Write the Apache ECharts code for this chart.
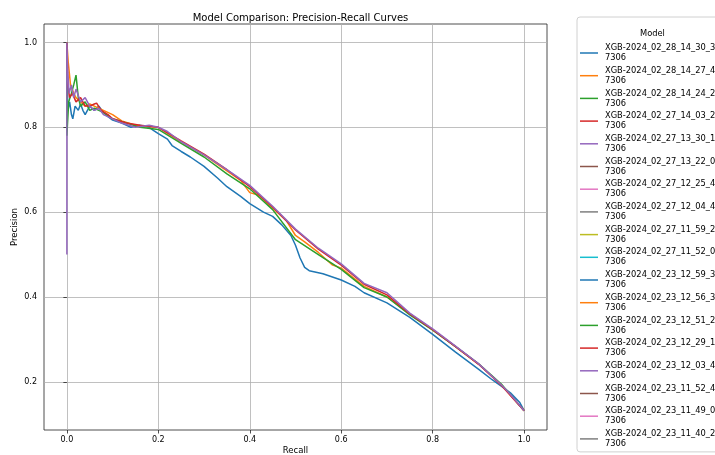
<!DOCTYPE html>
<html>
<head>
<meta charset="utf-8">
<script src="https://cdn.jsdelivr.net/npm/echarts@6/dist/echarts.min.js"></script>
<style>
  html, body { margin: 0; padding: 0; background: #fff; }
  #main { width: 715px; height: 455px; }
</style>
</head>
<body>
<div id="main"></div>
<script>
// legend names (first line), the second line of every entry is the same
var modelNames = [
  'XGB-2024_02_28_14_30_3', 'XGB-2024_02_28_14_27_4', 'XGB-2024_02_28_14_24_2',
  'XGB-2024_02_27_14_03_2', 'XGB-2024_02_27_13_30_1', 'XGB-2024_02_27_13_22_0',
  'XGB-2024_02_27_12_25_4', 'XGB-2024_02_27_12_04_4', 'XGB-2024_02_27_11_59_2',
  'XGB-2024_02_27_11_52_0', 'XGB-2024_02_23_12_59_3', 'XGB-2024_02_23_12_56_3',
  'XGB-2024_02_23_12_51_2', 'XGB-2024_02_23_12_29_1', 'XGB-2024_02_23_12_03_4',
  'XGB-2024_02_23_11_52_4', 'XGB-2024_02_23_11_49_0', 'XGB-2024_02_23_11_40_2'
];
var nameSuffix = '7306';
var colors = ['#1f77b4', '#ff7f0e', '#2ca02c', '#d62728', '#9467bd',
              '#8c564b', '#e377c2', '#7f7f7f', '#bcbd22', '#17becf'];

var xTicks = [0.0, 0.2, 0.4, 0.6, 0.8, 1.0];
var yTicks = [0.2, 0.4, 0.6, 0.8, 1.0];

// [recall, precision]
var curveBlue = [
  [0, 1.0], [0.002, 0.84], [0.006, 0.86], [0.01, 0.83], [0.013, 0.82], [0.018, 0.85],
  [0.025, 0.84], [0.03, 0.855], [0.035, 0.84], [0.04, 0.83], [0.05, 0.85], [0.06, 0.84],
  [0.07, 0.85], [0.08, 0.835], [0.09, 0.825], [0.1, 0.817], [0.12, 0.81], [0.14, 0.80],
  [0.16, 0.805], [0.18, 0.80], [0.19, 0.792], [0.2, 0.785], [0.22, 0.772], [0.23, 0.757],
  [0.25, 0.743], [0.27, 0.73], [0.3, 0.708], [0.33, 0.68], [0.35, 0.66], [0.38, 0.637],
  [0.4, 0.62], [0.43, 0.60], [0.45, 0.59], [0.47, 0.57], [0.49, 0.545], [0.5, 0.522],
  [0.51, 0.492], [0.52, 0.47], [0.53, 0.462], [0.56, 0.455], [0.6, 0.44], [0.63, 0.425],
  [0.65, 0.41], [0.7, 0.386], [0.75, 0.352], [0.8, 0.312], [0.85, 0.27], [0.9, 0.23],
  [0.93, 0.205], [0.95, 0.19], [0.97, 0.174], [0.99, 0.152], [1.0, 0.132]
];
var curveOrange = [
  [0, 1.0], [0.003, 0.954], [0.008, 0.90], [0.015, 0.88], [0.02, 0.87], [0.03, 0.86],
  [0.04, 0.85], [0.05, 0.855], [0.06, 0.85], [0.08, 0.84], [0.1, 0.83], [0.12, 0.815],
  [0.15, 0.805], [0.2, 0.80], [0.25, 0.765], [0.3, 0.735], [0.35, 0.697], [0.38, 0.675],
  [0.4, 0.646], [0.42, 0.64], [0.45, 0.61], [0.48, 0.58], [0.5, 0.545], [0.52, 0.53],
  [0.55, 0.505], [0.58, 0.476], [0.6, 0.468], [0.65, 0.425], [0.7, 0.40], [0.75, 0.36],
  [0.8, 0.323], [0.85, 0.283], [0.9, 0.242], [0.95, 0.193], [1.0, 0.132]
];
var curveGreen = [
  [0, 1.0], [0, 0.78], [0.004, 0.86], [0.01, 0.88], [0.015, 0.90], [0.02, 0.923],
  [0.025, 0.87], [0.03, 0.85], [0.04, 0.86], [0.05, 0.84], [0.06, 0.845], [0.07, 0.84],
  [0.08, 0.835], [0.1, 0.82], [0.13, 0.81], [0.16, 0.80], [0.2, 0.795], [0.25, 0.762],
  [0.3, 0.73], [0.35, 0.69], [0.4, 0.655], [0.45, 0.606], [0.5, 0.535], [0.55, 0.50],
  [0.6, 0.465], [0.65, 0.422], [0.7, 0.40], [0.75, 0.358], [0.8, 0.322], [0.85, 0.283],
  [0.9, 0.243], [0.95, 0.195], [1.0, 0.132]
];
var curveRed = [
  [0, 1.0], [0.002, 0.90], [0.006, 0.87], [0.012, 0.88], [0.02, 0.86], [0.03, 0.87],
  [0.04, 0.85], [0.05, 0.85], [0.06, 0.855], [0.065, 0.857], [0.075, 0.84], [0.09, 0.83],
  [0.1, 0.82], [0.13, 0.81], [0.16, 0.805], [0.2, 0.80], [0.25, 0.768], [0.3, 0.737],
  [0.35, 0.70], [0.4, 0.66], [0.45, 0.612], [0.5, 0.558], [0.55, 0.513], [0.6, 0.475],
  [0.65, 0.43], [0.7, 0.405], [0.75, 0.36], [0.8, 0.323], [0.85, 0.283], [0.9, 0.242],
  [0.95, 0.192], [1.0, 0.132]
];
var curvePurple = [
  [0, 0.5], [0, 1.0], [0.002, 0.93], [0.005, 0.88], [0.01, 0.90], [0.015, 0.87],
  [0.02, 0.89], [0.03, 0.86], [0.04, 0.87], [0.05, 0.85], [0.06, 0.84], [0.07, 0.845],
  [0.08, 0.83], [0.1, 0.82], [0.12, 0.81], [0.15, 0.80], [0.18, 0.805], [0.2, 0.80],
  [0.22, 0.79], [0.25, 0.766], [0.3, 0.735], [0.35, 0.70], [0.4, 0.663], [0.45, 0.614],
  [0.5, 0.56], [0.55, 0.515], [0.6, 0.478], [0.65, 0.432], [0.7, 0.41], [0.75, 0.362],
  [0.8, 0.325], [0.85, 0.284], [0.9, 0.243], [0.95, 0.193], [0.97, 0.17], [1.0, 0.132]
];
var curves = [curveBlue, curveOrange, curveGreen, curveRed, curvePurple];

var font = 'DejaVu Sans';
var myChart = echarts.init(document.getElementById('main'));

var series = [];
for (var i = 0; i < modelNames.length; i++) {
  series.push({
    name: modelNames[i],
    type: 'line',
    symbol: 'none',
    color: colors[i % colors.length],
    lineStyle: { width: 1.5 },
    data: curves[i] || []
  });
}

var option = {
  animation: false,
  title: {
    text: 'Model Comparison: Precision-Recall Curves',
    left: 295.5, top: 8, textAlign: 'center',
    textStyle: { fontFamily: font, fontSize: 10, fontWeight: 'normal', color: '#000' }
  },
  graphic: [{
    type: 'text', left: 640, top: 30,
    style: { text: 'Model', fontFamily: font, fontSize: 8.3, fill: '#000' }
  }],
  legend: {
    orient: 'vertical', left: 577, top: 17,
    padding: [26, 5, 3, 3],
    borderColor: '#d0d0d0', borderWidth: 1, borderRadius: 3,
    icon: 'rect', itemWidth: 18, itemHeight: 1.5, itemGap: 2.7,
    selectedMode: false,
    formatter: function (name) { return name + '\n' + nameSuffix; },
    textStyle: { fontFamily: font, fontSize: 8.3, lineHeight: 10, color: '#000', padding: [0, 0, 0, 2] },
    data: modelNames
  },
  grid: {
    left: 44, right: 168, top: 24, bottom: 25,
    outerBoundsMode: 'none',
    show: true, borderColor: '#222', borderWidth: 0.8
  },
  xAxis: {
    type: 'value', min: -0.05, max: 1.05,
    name: 'Recall', nameLocation: 'middle', nameGap: 16, nameMoveOverlap: false,
    nameTextStyle: { fontFamily: font, fontSize: 8.5, color: '#000' },
    axisLine: { show: false },
    axisTick: { show: true, inside: false, length: 3.5, customValues: xTicks, lineStyle: { color: '#222', width: 0.8 } },
    axisLabel: { customValues: xTicks, fontFamily: font, fontSize: 8, color: '#000', margin: 6,
      formatter: function (v) { return v.toFixed(1); } },
    splitLine: { show: true, lineStyle: { color: '#b0b0b0', width: 0.8 } }
  },
  yAxis: {
    type: 'value', min: 0.0865, max: 1.0435,
    name: 'Precision', nameLocation: 'middle', nameGap: 25, nameMoveOverlap: false,
    nameTextStyle: { fontFamily: font, fontSize: 8.5, color: '#000' },
    axisLine: { show: false },
    axisTick: { show: true, inside: false, length: 3.5, customValues: yTicks, lineStyle: { color: '#222', width: 0.8 } },
    axisLabel: { customValues: yTicks, fontFamily: font, fontSize: 8, color: '#000', margin: 7,
      formatter: function (v) { return v.toFixed(1); } },
    splitLine: { show: true, lineStyle: { color: '#b0b0b0', width: 0.8 } }
  },
  series: series
};

myChart.setOption(option);
</script>
</body>
</html>
